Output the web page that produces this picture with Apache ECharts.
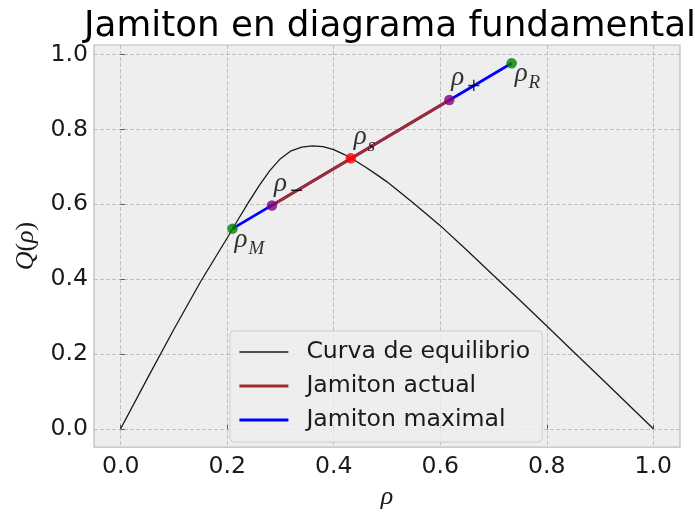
<!DOCTYPE html>
<html>
<head>
<meta charset="utf-8">
<script src="https://cdn.jsdelivr.net/npm/echarts@6/dist/echarts.min.js"></script>
<style>
  html, body { margin: 0; padding: 0; background: #ffffff; }
  #chart { width: 695px; height: 515px; }
</style>
</head>
<body>
<div id="chart"></div>
<script>
// Equilibrium flux curve Q(rho)
const rhoCurve = [0, 0.05, 0.1, 0.15, 0.2, 0.22, 0.24, 0.26, 0.28, 0.30, 0.32, 0.34, 0.36, 0.38, 0.40, 0.42, 0.44, 0.46, 0.48, 0.5, 0.55, 0.6, 0.65, 0.7, 0.75, 0.8, 0.85, 0.9, 0.95, 1.0];
const qCurve   = [0, 0.134, 0.266, 0.393, 0.51, 0.558, 0.605, 0.65, 0.69, 0.722, 0.743, 0.753, 0.756, 0.754, 0.746, 0.733, 0.717, 0.699, 0.68, 0.66, 0.603, 0.543, 0.477, 0.41, 0.343, 0.275, 0.206, 0.138, 0.069, 0];

// Jamiton states: rho_M, rho_-, rho_s, rho_+, rho_R
const pointNames = ['M', '−', 's', '+', 'R'];
const pointRho   = [0.21, 0.284, 0.432, 0.617, 0.734];
const pointQ     = [0.535, 0.597, 0.723, 0.879, 0.977];

// Axis ticks
const xTicks = [0, 0.2, 0.4, 0.6, 0.8, 1.0];
const yTicks = [0, 0.2, 0.4, 0.6, 0.8, 1.0];

const seriesNames = ['Curva de equilibrio', 'Jamiton actual', 'Jamiton maximal'];

// Line look for each series
const lineLook = {
  'Curva de equilibrio': { color: '#1a1a1a', width: 1.3 },
  'Jamiton actual': { color: '#a52a2a', width: 2.8 },
  'Jamiton maximal': { color: '#0000ff', width: 2.8 }
};

// Marker look for each state
const pointStyle = {
  'M': { color: '#008000', offset: [2, 11], italic: true },
  '−': { color: '#800080', offset: [2, -22], italic: false },
  's': { color: '#ff0000', offset: [3, -21], italic: true },
  '+': { color: '#800080', offset: [2, -22], italic: false },
  'R': { color: '#008000', offset: [3, 11], italic: true }
};

const idx = name => pointNames.indexOf(name);
const pt = name => [pointRho[idx(name)], pointQ[idx(name)]];

const curveData = rhoCurve.map((r, i) => [r, qCurve[i]]);
const maximalData = [pt('M'), pt('R')];
const actualData = [pt('−'), pt('+')];

const serif = 'Liberation Serif';
const sans = 'DejaVu Sans';
const textColor = '#1a1a1a';

const pointData = pointNames.map((n, i) => ({
  value: [pointRho[i], pointQ[i]],
  name: n,
  itemStyle: { color: pointStyle[n].color },
  label: { offset: pointStyle[n].offset }
}));

const lineSeries = (name, data, z) => ({
  name,
  type: 'line',
  data,
  symbol: 'none',
  lineStyle: { color: lineLook[name].color, width: lineLook[name].width },
  itemStyle: { color: lineLook[name].color },
  z
});

const chart = echarts.init(document.getElementById('chart'), null, { renderer: 'canvas' });

chart.setOption({
  animation: false,
  backgroundColor: '#ffffff',
  title: {
    text: 'Jamiton en diagrama fundamental',
    left: 385,
    textAlign: 'center',
    top: 4,
    textStyle: { fontFamily: sans, fontSize: 35.7, fontWeight: 'normal', color: '#000000' }
  },
  grid: {
    left: 94, right: 15, top: 45, bottom: 61,
    show: true,
    backgroundColor: '#eeeeee',
    borderColor: '#bcbcbc',
    borderWidth: 1.2
  },
  legend: {
    data: seriesNames.map(n => ({
      name: n,
      lineStyle: { color: lineLook[n].color, width: lineLook[n].width }
    })),
    orient: 'vertical',
    left: 230,
    top: 331,
    itemWidth: 49,
    itemHeight: 14,
    itemGap: 10,
    padding: [9, 12, 10, 8],
    backgroundColor: 'rgba(238,238,238,0.8)',
    borderColor: '#cccccc',
    borderWidth: 1,
    borderRadius: 4,
    selectedMode: false,
    itemStyle: { opacity: 0 },
    textStyle: { fontFamily: sans, fontSize: 23.6, color: textColor, lineHeight: 24, padding: [0, 0, 0, 13] }
  },
  xAxis: {
    type: 'value',
    min: -0.05,
    max: 1.05,
    name: '{i|ρ}',
    nameLocation: 'middle',
    nameGap: 20,
    nameTextStyle: {
      rich: { i: { fontFamily: serif, fontStyle: 'italic', fontSize: 26, color: textColor, lineHeight: 26 } }
    },
    axisLine: { show: false },
    axisTick: { show: true, inside: true, length: 4, customValues: xTicks, lineStyle: { color: '#555555', width: 1 } },
    axisLabel: {
      customValues: xTicks,
      margin: 8,
      fontFamily: sans, fontSize: 23.6, color: textColor, lineHeight: 24,
      formatter: v => v.toFixed(1)
    },
    splitLine: { show: true, lineStyle: { color: '#b2b2b2', width: 0.8, type: [4, 2] } }
  },
  yAxis: {
    type: 'value',
    min: -0.0489,
    max: 1.0258,
    name: '{i|Q}{u|(}{i|ρ}{u|)}',
    nameLocation: 'middle',
    nameGap: 54,
    nameTextStyle: {
      rich: {
        i: { fontFamily: serif, fontStyle: 'italic', fontSize: 26, color: textColor, lineHeight: 26 },
        u: { fontFamily: serif, fontSize: 26, color: textColor, lineHeight: 26 }
      }
    },
    axisLine: { show: false },
    axisTick: { show: true, inside: true, length: 4, customValues: yTicks, lineStyle: { color: '#555555', width: 1 } },
    axisLabel: {
      customValues: yTicks,
      margin: 6,
      fontFamily: sans, fontSize: 23.6, color: textColor,
      formatter: v => v.toFixed(1)
    },
    splitLine: { show: true, lineStyle: { color: '#b2b2b2', width: 0.8, type: [4, 2] } }
  },
  series: [
    lineSeries(seriesNames[0], curveData, 2),
    lineSeries(seriesNames[2], maximalData, 3),
    lineSeries(seriesNames[1], actualData, 4),
    {
      name: 'estados',
      type: 'scatter',
      data: pointData,
      symbol: 'circle',
      symbolSize: 10.5,
      z: 5,
      label: {
        show: true,
        position: 'inside',
        align: 'left',
        verticalAlign: 'middle',
        formatter: p => {
          const sub = pointStyle[p.name].italic ? 'si' : 'su';
          return '{r|ρ}{' + sub + '|' + p.name + '}';
        },
        rich: {
          r: { fontFamily: serif, fontStyle: 'italic', fontSize: 27, color: '#000000', lineHeight: 40 },
          si: { fontFamily: serif, fontStyle: 'italic', fontSize: 19, color: '#000000', lineHeight: 19, padding: [18, 0, 0, 1] },
          su: { fontFamily: sans, fontSize: 18, color: '#000000', lineHeight: 19, padding: [16, 0, 0, 2] }
        }
      }
    }
  ]
});
</script>
</body>
</html>
